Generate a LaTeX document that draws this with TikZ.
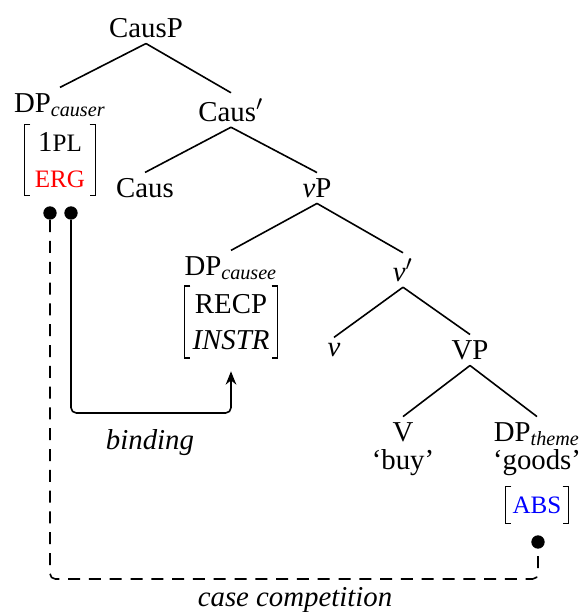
\documentclass[tikz,border=0pt]{standalone}
\usepackage{fontspec}
\setmainfont{Liberation Serif}
\usetikzlibrary{arrows.meta}

\tikzset{
    lbl/.style={inner sep=2pt},
    stack/.style={inner sep=2pt,align=center},
    branch/.style={semithick},
    dot/.style={circle,fill,inner sep=0pt,minimum size=5pt},
    feat/.style={inner sep=0pt,align=center},
    brack/.style={line width=0.45pt},
    link/.style={semithick,rounded corners=2pt},
}
\newcommand{\smcap}[1]{{\fontsize{9.4}{10}\selectfont #1}}

\begin{document}
\begin{tikzpicture}[x=0.375pt,y=-0.375pt,font=\fontsize{10.8}{13}\selectfont]
    \useasboundingbox (0,0) rectangle (587,612);

    % Top: CausP and its daughters
    \node[lbl] (causp) at (146,28) {CausP};
    \node[lbl] (dpcauser) at (60,105) {DP\textsubscript{\itshape causer}};
    \node[feat,minimum width=26.3pt,minimum height=26.3pt] (fcauser) at (60,160)
        {1\smcap{PL}\\[0.5pt] \textcolor{red}{\smcap{ERG}}};
    \node[lbl] (causbar) at (231,110) {Caus$'$};

    % Caus' and its daughters
    \node[lbl] (caus) at (145,188) {Caus};
    \node[lbl] (vp) at (317,188) {\textit{v}P};

    % vP: the causee and v'
    \node[lbl] (dpcausee) at (231,268) {DP\textsubscript{\itshape causee}};
    \node[feat,minimum width=34.5pt,minimum height=26.6pt] (fcausee) at (231,322)
        {RECP\\[0.5pt] \textit{INSTR}};
    \node[lbl] (vbar) at (403,270) {\textit{v}$'$};

    % v' : v and VP
    \node[lbl] (vhead) at (334,350) {\textit{v}};
    \node[lbl] (vphr) at (470,350) {VP};

    % VP: V and the theme
    \node[stack,font=\fontsize{10.8}{10.5}\selectfont] (verb) at (403,449) {V\\`buy'};
    \node[stack,font=\fontsize{10.8}{10.5}\selectfont] (dptheme) at (537,449)
        {DP\textsubscript{\itshape theme}\\`goods'};
    \node[feat,minimum width=23.3pt,minimum height=13.5pt] (ftheme) at (537,505)
        {\textcolor{blue}{\smcap{ABS}}};

    % Brackets round the feature bundles
    \foreach \f in {fcauser,fcausee,ftheme} {
        \draw[brack] ([xshift=2.2pt]\f.north west) -- (\f.north west)
            -- (\f.south west) -- ++(2.2pt,0);
        \draw[brack] ([xshift=-2.2pt]\f.north east) -- (\f.north east)
            -- (\f.south east) -- ++(-2.2pt,0);
    }

    % Branches
    \draw[branch] (causp.south) -- (dpcauser.north);
    \draw[branch] (causp.south) -- (causbar.north);
    \draw[branch] (causbar.south) -- (caus.north);
    \draw[branch] (causbar.south) -- (vp.north);
    \draw[branch] (vp.south) -- (dpcausee.north);
    \draw[branch] (vp.south) -- (vbar.north);
    \draw[branch] (vbar.south) -- (vhead.north);
    \draw[branch] (vbar.south) -- (vphr.north);
    \draw[branch] (vphr.south) -- (verb.north);
    \draw[branch] (vphr.south) -- (dptheme.north);

    % Dots where the two relations start and end
    \node[dot] (dcase) at (50,213) {};
    \node[dot] (dbind) at (71,213) {};
    \node[dot] (dtheme) at (538,542) {};

    % Binding: causer binds the causee
    \coordinate (bindlow) at (150,413);
    \draw[link,-{Stealth[length=5pt,width=4pt]}] (dbind) -- (dbind |- bindlow)
        -- (fcausee.south |- bindlow) -- ([yshift=-5pt]fcausee.south);
    \node[lbl] (bindlbl) at (150,443) {\textit{binding}};

    % Case competition: causer vs theme
    \coordinate (caselow) at (295,579);
    \draw[link,dash pattern=on 4.5pt off 3.3pt] (dcase) -- (dcase |- caselow)
        -- (dtheme |- caselow) -- (dtheme);
    \node[lbl] (caselbl) at (295,600) {\textit{case competition}};
\end{tikzpicture}
\end{document}
